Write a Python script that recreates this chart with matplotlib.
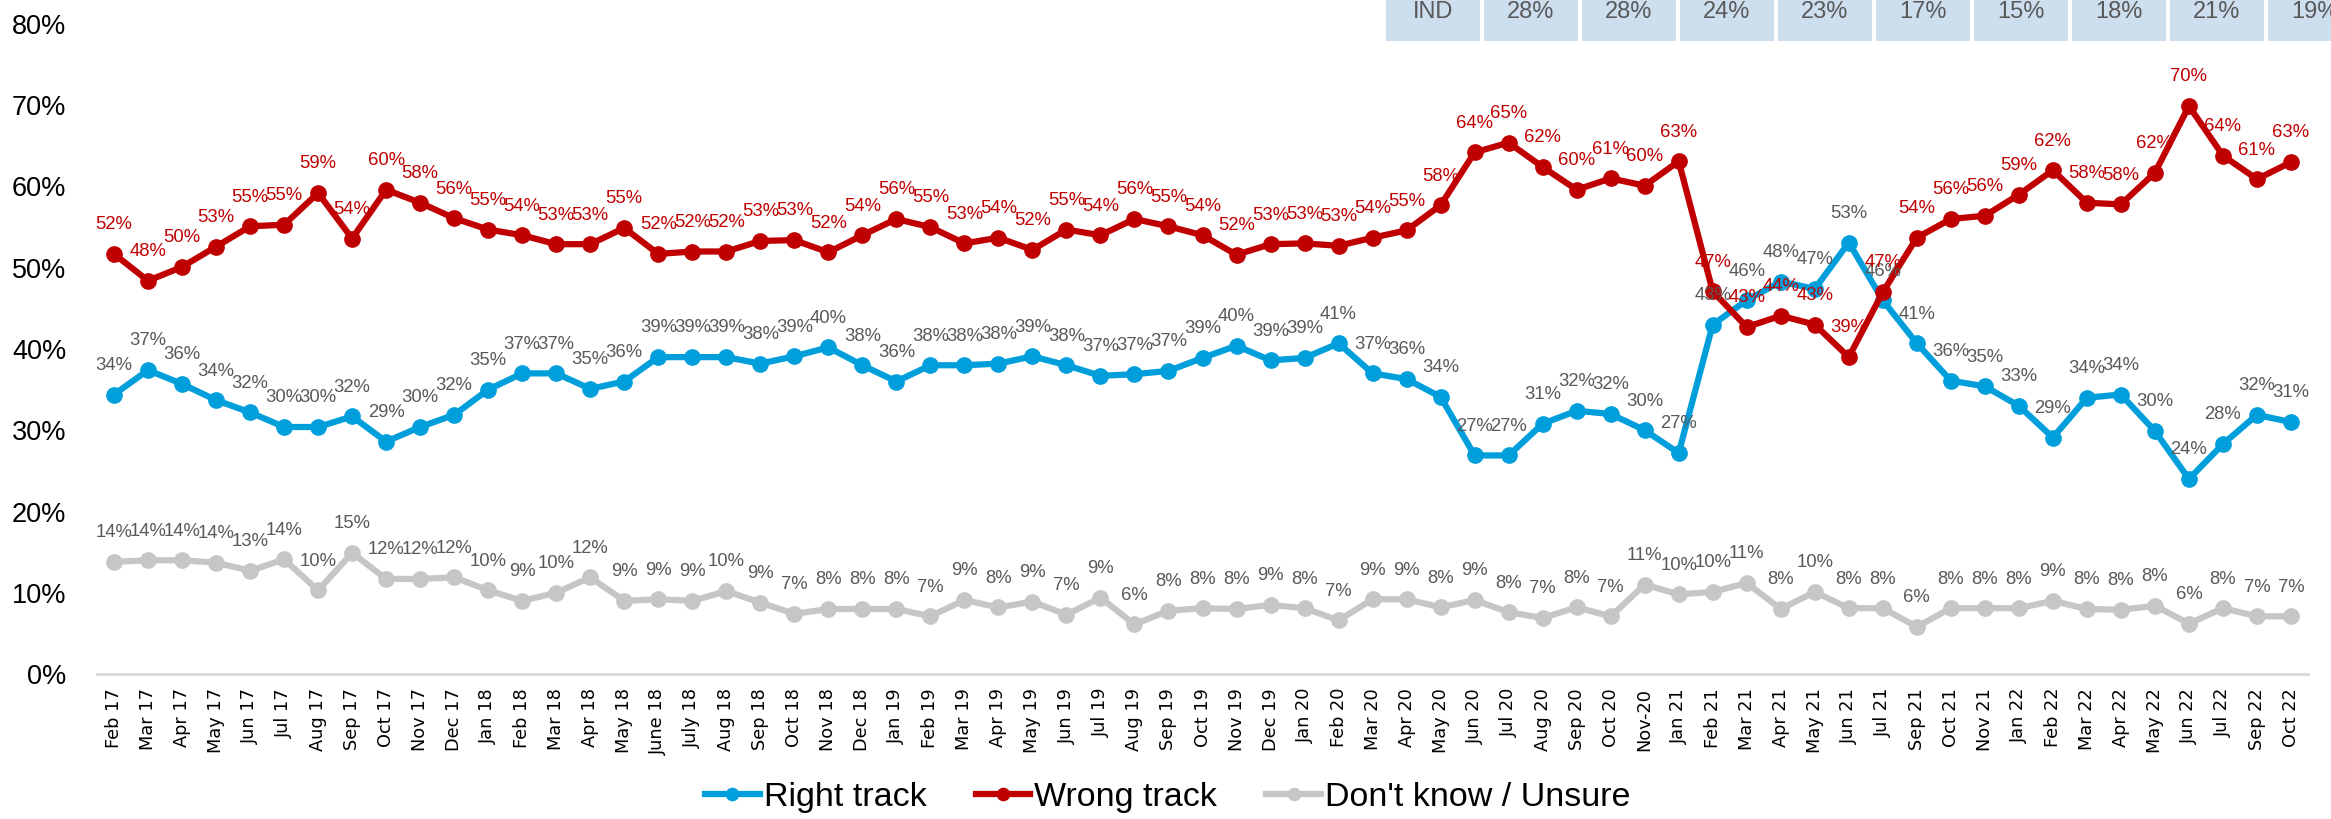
import matplotlib
matplotlib.use("Agg")
import matplotlib.pyplot as plt
from matplotlib.patches import Rectangle

# ---------------- data ----------------
months = ["Feb 17", "Mar 17", "Apr 17", "May 17", "Jun 17", "Jul 17", "Aug 17", "Sep 17",
          "Oct 17", "Nov 17", "Dec 17", "Jan 18", "Feb 18", "Mar 18", "Apr 18", "May 18",
          "June 18", "July 18", "Aug 18", "Sep 18", "Oct 18", "Nov 18", "Dec 18", "Jan 19",
          "Feb 19", "Mar 19", "Apr 19", "May 19", "Jun 19", "Jul 19", "Aug 19", "Sep 19",
          "Oct 19", "Nov 19", "Dec 19", "Jan 20", "Feb 20", "Mar 20", "Apr 20", "May 20",
          "Jun 20", "Jul 20", "Aug 20", "Sep 20", "Oct 20", "Nov-20", "Jan 21", "Feb 21",
          "Mar 21", "Apr 21", "May 21", "Jun 21", "Jul 21", "Sep 21", "Oct 21", "Nov 21",
          "Jan 22", "Feb 22", "Mar 22", "Apr 22", "May 22", "Jun 22", "Jul 22", "Sep 22",
          "Oct 22"]

right_track = [34.4, 37.4, 35.7, 33.7, 32.2, 30.4, 30.4, 31.7, 28.6, 30.4, 31.9,
               35.0, 37.0, 37.0, 35.1, 36.0, 39.0, 39.0, 39.0, 38.2, 39.1, 40.2, 38.0,
               36.0, 38.0, 38.0, 38.2, 39.1, 38.0, 36.7, 36.9, 37.3, 38.9, 40.4, 38.6,
               38.9, 40.7, 37.0, 36.3, 34.1, 26.9, 26.9, 30.8, 32.4, 32.0, 30.0,
               27.2, 43.0, 46.0, 48.3, 47.4, 53.1, 46.0, 40.7, 36.1, 35.4,
               33.0, 29.1, 34.0, 34.4, 29.9, 24.0, 28.3, 31.9, 31.0]

wrong_track = [51.7, 48.4, 50.1, 52.6, 55.1, 55.3, 59.2, 53.6, 59.6, 58.0, 56.1,
               54.7, 54.0, 52.9, 52.9, 54.9, 51.7, 52.0, 52.0, 53.3, 53.4, 51.9, 54.0,
               56.0, 55.0, 53.0, 53.7, 52.2, 54.7, 54.0, 56.0, 55.1, 54.0, 51.6, 52.9,
               53.0, 52.7, 53.7, 54.6, 57.7, 64.2, 65.4, 62.4, 59.6, 61.0, 60.1,
               63.1, 47.1, 42.7, 44.1, 43.0, 39.0, 47.0, 53.7, 56.0, 56.4,
               59.0, 62.0, 58.0, 57.8, 61.7, 69.9, 63.8, 60.9, 63.0]

unsure = [13.8, 14.0, 14.0, 13.7, 12.7, 14.1, 10.3, 14.9, 11.7, 11.7, 11.9,
          10.3, 9.0, 10.0, 11.9, 9.0, 9.2, 9.0, 10.2, 8.8, 7.4, 8.0, 8.0,
          8.0, 7.1, 9.1, 8.2, 8.9, 7.3, 9.4, 6.1, 7.8, 8.1, 8.0, 8.5,
          8.1, 6.6, 9.2, 9.2, 8.2, 9.1, 7.6, 6.9, 8.2, 7.1, 11.0,
          9.8, 10.1, 11.2, 8.0, 10.1, 8.1, 8.1, 5.8, 8.1, 8.1,
          8.1, 9.0, 8.0, 7.9, 8.4, 6.2, 8.1, 7.1, 7.1]

series_names = ["Right track", "Wrong track", "Don't know / Unsure"]
table_labels = ["IND", "28%", "28%", "24%", "23%", "17%", "15%", "18%", "21%", "19%"]
y_ticks = [0, 10, 20, 30, 40, 50, 60, 70, 80]

# ---------------- style ----------------
FONT = ["Liberation Sans", "DejaVu Sans"]
BLUE = "#009FDB"
RED = "#C00000"
GREY = "#C6C6C6"
LABEL_GREY = "#595959"

W, H = 2331, 819
fig = plt.figure(figsize=(W / 100, H / 100), dpi=100)
fig.patch.set_facecolor("white")

left, right, top, bottom = 97, 2308, 24, 674
ax = fig.add_axes([left / W, 1 - bottom / H, (right - left) / W, (bottom - top) / H])

x = list(range(len(months)))
series = [(right_track, BLUE, LABEL_GREY),
          (wrong_track, RED, RED),
          (unsure, GREY, LABEL_GREY)]

handles = []
for (vals, col, lab_col), name in zip(series, series_names):
    h, = ax.plot(x, vals, color=col, lw=4.5, marker="o", markersize=11,
                 markerfacecolor=col, markeredgecolor=col, solid_joinstyle="round",
                 label=name, zorder=3, clip_on=False)
    handles.append(h)

for (vals, col, lab_col) in series:
    for i, v in enumerate(vals):
        ax.annotate(f"{int(v + 0.5)}%", (i, v), xytext=(0, 21), textcoords="offset points",
                    ha="center", va="center", fontsize=13.3, color=lab_col,
                    family=FONT, zorder=5, annotation_clip=False)

ax.set_xlim(-0.5, len(months) - 0.5)
ax.set_ylim(0, 80)
ax.set_yticks(y_ticks)
ax.set_yticklabels([f"{t}%" for t in y_ticks], family=FONT, fontsize=19.5)
ax.set_xticks(x)
ax.set_xticklabels(months, rotation=90, family="DejaVu Sans", fontsize=12.8)
ax.tick_params(axis="y", length=0, pad=22)
ax.tick_params(axis="x", length=0, pad=10)
for s in ax.spines.values():
    s.set_visible(False)
ax.axhline(0, color="#D9D9D9", lw=2, zorder=1, clip_on=False)

# top strip of cells
cell_w, step, x0 = 94, 98, 1386
for i, lab in enumerate(table_labels):
    cx = x0 + i * step
    fig.patches.append(Rectangle((cx / W, 1 - 41 / H), cell_w / W, 60 / H,
                                 transform=fig.transFigure, facecolor="#CDDEEF",
                                 edgecolor="none", zorder=0))
    fig.text((cx + cell_w / 2) / W, 1 - 12 / H, lab, ha="center", va="center",
             family=FONT, fontsize=17, color=LABEL_GREY)

leg = fig.legend(handles=handles, loc="center", bbox_to_anchor=(0.501, 0.026),
                 ncol=3, frameon=False, prop={"family": FONT, "size": 24.5},
                 handlelength=1.6, handletextpad=0.12, columnspacing=1.45,
                 markerscale=0.8)

fig.savefig("out.png", dpi=100, facecolor="white")
